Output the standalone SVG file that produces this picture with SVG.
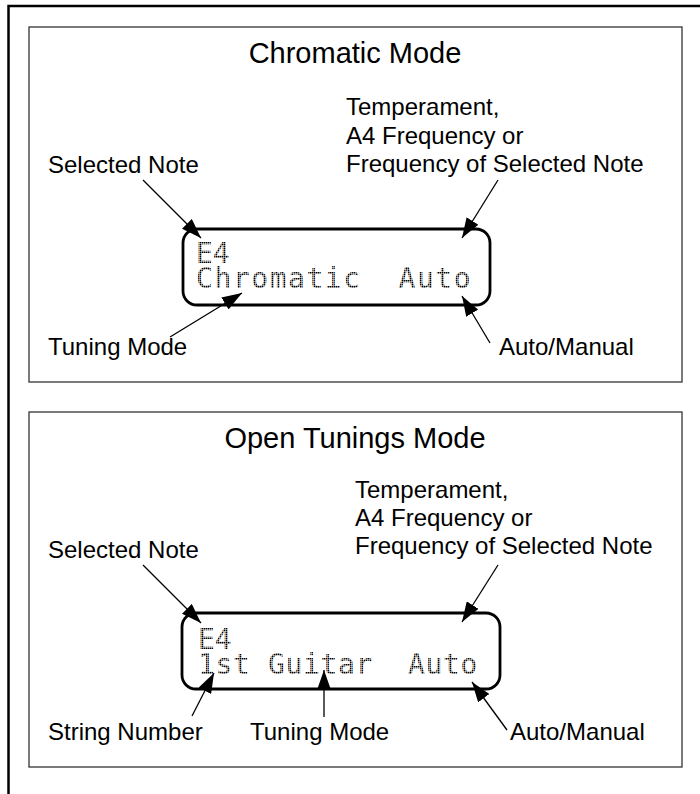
<svg xmlns="http://www.w3.org/2000/svg" width="700" height="794" viewBox="0 0 700 794">
<style>
.lbl{font-family:"Liberation Sans",Arial,sans-serif;font-size:24px;fill:#000}
.ttl{font-family:"Liberation Sans",Arial,sans-serif;font-size:29px;fill:#000;text-anchor:middle}
.lcd{font-family:"DejaVu Sans Mono",monospace;font-size:28px;fill:url(#dots);white-space:pre}
.panel{fill:#fff;stroke:#333;stroke-width:1.3}
.screen{fill:none;stroke:#000;stroke-width:2.8}
.conn line{stroke:#000;stroke-width:1.3;marker-end:url(#ah)}
</style>
<defs>
<pattern id="dots" patternUnits="userSpaceOnUse" width="2" height="2">
<rect x="0" y="0" width="1.5" height="1.5" fill="#000"/>
</pattern>
<marker id="ah" viewBox="0 0 20 14" refX="20" refY="7" markerWidth="20" markerHeight="14" markerUnits="userSpaceOnUse" orient="auto">
<path d="M0,0 L20,7 L0,14 Z" fill="#000"/>
</marker>
</defs>
<rect x="0" y="0" width="700" height="794" fill="#fff"/>
<rect x="8.5" y="6" width="720" height="820" fill="none" stroke="#000" stroke-width="2.5"/>

<g id="panel-chromatic">
<rect class="panel" x="29" y="27" width="653" height="355"/>
<text class="ttl" x="355" y="63">Chromatic Mode</text>
</g>
<g id="lcd-chromatic">
<rect class="screen" x="183" y="229" width="307" height="76" rx="14"/>
<text class="lcd" x="196" y="263">E4</text>
<text class="lcd" x="196" y="288" xml:space="preserve" style="letter-spacing:1.55px">Chromatic  Auto</text>
</g>
<g id="lbl-c-selected"><text class="lbl" x="48" y="173">Selected Note</text></g>
<g id="lbl-c-temperament">
<text class="lbl" x="346" y="115">Temperament,</text>
<text class="lbl" x="346" y="144">A4 Frequency or</text>
<text class="lbl" x="346" y="172">Frequency of Selected Note</text>
</g>
<g id="lbl-c-tuning"><text class="lbl" x="48" y="355">Tuning Mode</text></g>
<g id="lbl-c-auto"><text class="lbl" x="499" y="355">Auto/Manual</text></g>

<g id="panel-open">
<rect class="panel" x="29" y="412" width="653" height="355"/>
<text class="ttl" x="355" y="448">Open Tunings Mode</text>
</g>
<g id="lcd-open">
<rect class="screen" x="182" y="613" width="318" height="76" rx="14"/>
<text class="lcd" x="198" y="649">E4</text>
<text class="lcd" x="198" y="674" xml:space="preserve" style="letter-spacing:0.65px">1st Guitar  Auto</text>
</g>
<g id="lbl-o-selected"><text class="lbl" x="48" y="558">Selected Note</text></g>
<g id="lbl-o-temperament">
<text class="lbl" x="355" y="498">Temperament,</text>
<text class="lbl" x="355" y="526">A4 Frequency or</text>
<text class="lbl" x="355" y="554">Frequency of Selected Note</text>
</g>
<g id="lbl-o-string"><text class="lbl" x="48" y="740">String Number</text></g>
<g id="lbl-o-tuning"><text class="lbl" x="250" y="740">Tuning Mode</text></g>
<g id="lbl-o-auto"><text class="lbl" x="510" y="740">Auto/Manual</text></g>

<g id="connectors" class="conn">
<line x1="143" y1="180" x2="201" y2="238"/>
<line x1="498" y1="180" x2="462" y2="238"/>
<line x1="170" y1="337" x2="242" y2="293"/>
<line x1="490" y1="343" x2="462" y2="296"/>
<line x1="143" y1="565" x2="201" y2="623"/>
<line x1="498" y1="565" x2="462" y2="622"/>
<line x1="192" y1="716" x2="214" y2="673"/>
<line x1="324" y1="717" x2="324" y2="670"/>
<line x1="507" y1="730" x2="472" y2="682"/>
</g>
</svg>
